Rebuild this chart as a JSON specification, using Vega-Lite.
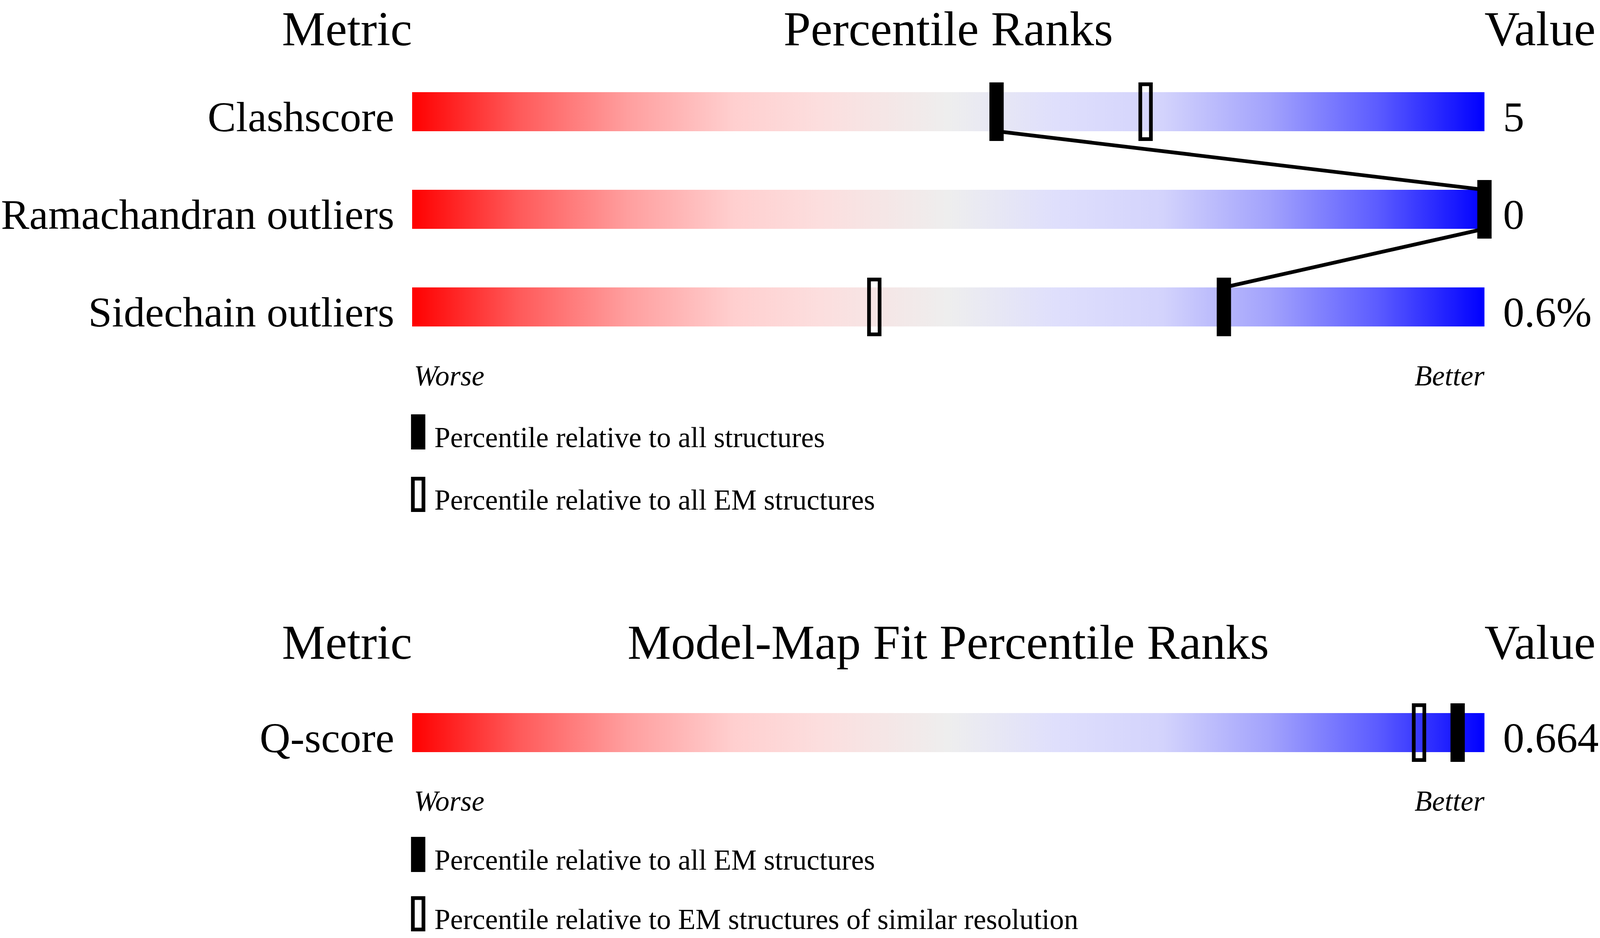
{
  "$schema": "https://vega.github.io/schema/vega-lite/v6.json",
  "width": 4104,
  "height": 2402,
  "autosize": {"type": "none"},
  "padding": 0,
  "background": "white",
  "config": {
    "view": {"stroke": null},
    "font": "Liberation Serif",
    "text": {"font": "Liberation Serif", "color": "black", "baseline": "alphabetic"},
    "legend": {"labelFont": "Liberation Serif", "labelColor": "black", "labelLimit": 4000}
  },
  "datasets": {
    "validation": [
      {"metric": "Clashscore", "value": "5"},
      {"metric": "Ramachandran outliers", "value": "0"},
      {"metric": "Sidechain outliers", "value": "0.6%"}
    ],
    "percentiles": [
      {"metric": "Clashscore", "ref": "Percentile relative to all structures", "pct": 54.5},
      {"metric": "Ramachandran outliers", "ref": "Percentile relative to all structures", "pct": 100},
      {"metric": "Sidechain outliers", "ref": "Percentile relative to all structures", "pct": 75.7},
      {"metric": "Clashscore", "ref": "Percentile relative to all EM structures", "pct": 68.4},
      {"metric": "Sidechain outliers", "ref": "Percentile relative to all EM structures", "pct": 43.1}
    ],
    "mapfit": [
      {"metric": "Q-score", "value": "0.664"}
    ],
    "mapfitPercentiles": [
      {"metric": "Q-score", "ref": "Percentile relative to all EM structures", "pct": 97.5},
      {"metric": "Q-score", "ref": "Percentile relative to EM structures of similar resolution", "pct": 93.9}
    ]
  },
  "resolve": {"scale": {"y": "independent", "fill": "independent"}, "legend": {"fill": "independent"}},
  "layer": [
    {
      "layer": [
        {
          "data": {"name": "validation"},
          "mark": {"type": "rect", "fill": {"gradient": "linear", "x1": 0, "y1": 0, "x2": 1, "y2": 0, "stops": [
            {"offset": 0, "color": "#FF0000"},
            {"offset": 0.1, "color": "#FF5A5A"},
            {"offset": 0.2, "color": "#FF9E9E"},
            {"offset": 0.3, "color": "#FFCFCF"},
            {"offset": 0.38, "color": "#FCDEDE"},
            {"offset": 0.5, "color": "#EEEEEE"},
            {"offset": 0.6, "color": "#DFDFFC"},
            {"offset": 0.7, "color": "#D3D3FC"},
            {"offset": 0.8, "color": "#A2A2FC"},
            {"offset": 0.9, "color": "#5C5CFF"},
            {"offset": 1, "color": "#0000FF"}
          ]}},
          "encoding": {
            "x": {"datum": 0, "type": "quantitative", "scale": {"domain": [-38.4333, 111.0667], "nice": false, "zero": false}, "axis": null},
            "x2": {"datum": 100},
            "y": {"field": "metric", "type": "nominal", "scale": {"range": [161, 911], "paddingInner": 0.6, "paddingOuter": 0.3}, "axis": null}
          }
        },
        {
          "data": {"name": "percentiles"},
          "transform": [
            {"filter": "datum.ref === 'Percentile relative to all structures'"},
            {"window": [{"op": "lead", "field": "pct", "as": "nextPct"}, {"op": "lead", "field": "metric", "as": "next"}]},
            {"filter": "datum.next != null"}
          ],
          "mark": {"type": "rule", "strokeWidth": 9.5, "color": "black", "yOffset": 50, "y2Offset": -50},
          "encoding": {
            "x": {"field": "pct", "type": "quantitative", "axis": null},
            "x2": {"field": "nextPct"},
            "y": {"field": "metric", "type": "nominal", "axis": null},
            "y2": {"field": "next"}
          }
        },
        {
          "data": {"name": "percentiles"},
          "mark": {"type": "point", "shape": "M-0.1929,-1h0.3858v2h-0.3858z", "size": 19740, "filled": true, "opacity": 1, "stroke": "black", "strokeWidth": 9.5},
          "encoding": {
            "x": {"field": "pct", "type": "quantitative", "axis": null},
            "y": {"field": "metric", "type": "nominal", "axis": null},
            "fill": {"field": "ref", "type": "nominal",
              "scale": {"domain": ["Percentile relative to all structures", "Percentile relative to all EM structures"], "range": ["black", "transparent"]},
              "legend": {"orient": "none", "legendX": 1025.5, "legendY": 1078, "title": null, "direction": "vertical", "symbolType": "M-0.3366,-1.422h0.6732v2h-0.6732z", "symbolSize": 6480, "symbolStrokeWidth": 9.5, "symbolStrokeColor": "black", "symbolOpacity": 1, "labelFontSize": 73.2, "labelOffset": -3.5, "rowPadding": 40}}
          }
        },
        {
          "data": {"name": "validation"},
          "mark": {"type": "text", "align": "right", "dx": -45.75, "dy": 50, "fontSize": 108.9},
          "encoding": {
            "x": {"datum": 0, "type": "quantitative", "axis": null},
            "y": {"field": "metric", "type": "nominal", "axis": null},
            "text": {"field": "metric"}
          }
        },
        {
          "data": {"name": "validation"},
          "mark": {"type": "text", "align": "left", "dx": 47.6, "dy": 50, "fontSize": 108.9},
          "encoding": {
            "x": {"datum": 100, "type": "quantitative", "axis": null},
            "y": {"field": "metric", "type": "nominal", "axis": null},
            "text": {"field": "value"}
          }
        },
        {
          "data": {"values": [{}]},
          "mark": {"type": "text", "text": "Metric", "align": "right", "dy": -170, "fontSize": 125},
          "encoding": {"x": {"datum": 0, "type": "quantitative", "axis": null}, "y": {"datum": "Clashscore", "type": "nominal", "axis": null}}
        },
        {
          "data": {"values": [{}]},
          "mark": {"type": "text", "text": "Percentile Ranks", "align": "center", "dy": -170, "fontSize": 125},
          "encoding": {"x": {"datum": 50, "type": "quantitative", "axis": null}, "y": {"datum": "Clashscore", "type": "nominal", "axis": null}}
        },
        {
          "data": {"values": [{}]},
          "mark": {"type": "text", "text": "Value", "align": "left", "dx": 0, "dy": -170, "fontSize": 125},
          "encoding": {"x": {"datum": 100, "type": "quantitative", "axis": null}, "y": {"datum": "Clashscore", "type": "nominal", "axis": null}}
        },
        {
          "data": {"values": [{}]},
          "mark": {"type": "text", "text": "Worse", "align": "left", "dx": 4.6, "dy": 201, "fontSize": 73.2, "fontStyle": "italic"},
          "encoding": {"x": {"datum": 0, "type": "quantitative", "axis": null}, "y": {"datum": "Sidechain outliers", "type": "nominal", "axis": null}}
        },
        {
          "data": {"values": [{}]},
          "mark": {"type": "text", "text": "Better", "align": "right", "dy": 201, "fontSize": 73.2, "fontStyle": "italic"},
          "encoding": {"x": {"datum": 100, "type": "quantitative", "axis": null}, "y": {"datum": "Sidechain outliers", "type": "nominal", "axis": null}}
        }
      ]
    },
    {
      "layer": [
        {
          "data": {"name": "mapfit"},
          "mark": {"type": "rect", "fill": {"gradient": "linear", "x1": 0, "y1": 0, "x2": 1, "y2": 0, "stops": [
            {"offset": 0, "color": "#FF0000"},
            {"offset": 0.1, "color": "#FF5A5A"},
            {"offset": 0.2, "color": "#FF9E9E"},
            {"offset": 0.3, "color": "#FFCFCF"},
            {"offset": 0.38, "color": "#FCDEDE"},
            {"offset": 0.5, "color": "#EEEEEE"},
            {"offset": 0.6, "color": "#DFDFFC"},
            {"offset": 0.7, "color": "#D3D3FC"},
            {"offset": 0.8, "color": "#A2A2FC"},
            {"offset": 0.9, "color": "#5C5CFF"},
            {"offset": 1, "color": "#0000FF"}
          ]}},
          "encoding": {
            "x": {"datum": 0, "type": "quantitative", "axis": null},
            "x2": {"datum": 100},
            "y": {"field": "metric", "type": "nominal", "scale": {"range": [1751, 2001], "paddingInner": 0.6, "paddingOuter": 0.3}, "axis": null}
          }
        },
        {
          "data": {"name": "mapfitPercentiles"},
          "mark": {"type": "point", "shape": "M-0.1929,-1h0.3858v2h-0.3858z", "size": 19740, "filled": true, "opacity": 1, "stroke": "black", "strokeWidth": 9.5},
          "encoding": {
            "x": {"field": "pct", "type": "quantitative", "axis": null},
            "y": {"field": "metric", "type": "nominal", "axis": null},
            "fill": {"field": "ref", "type": "nominal",
              "scale": {"domain": ["Percentile relative to all EM structures", "Percentile relative to EM structures of similar resolution"], "range": ["black", "transparent"]},
              "legend": {"orient": "none", "legendX": 1025.5, "legendY": 2160, "title": null, "direction": "vertical", "symbolType": "M-0.3366,-1.422h0.6732v2h-0.6732z", "symbolSize": 6480, "symbolStrokeWidth": 9.5, "symbolStrokeColor": "black", "symbolOpacity": 1, "labelFontSize": 73.2, "labelOffset": -3.5, "rowPadding": 32}}
          }
        },
        {
          "data": {"name": "mapfit"},
          "mark": {"type": "text", "align": "right", "dx": -45.75, "dy": 50, "fontSize": 108.9},
          "encoding": {
            "x": {"datum": 0, "type": "quantitative", "axis": null},
            "y": {"field": "metric", "type": "nominal", "axis": null},
            "text": {"field": "metric"}
          }
        },
        {
          "data": {"name": "mapfit"},
          "mark": {"type": "text", "align": "left", "dx": 47.6, "dy": 50, "fontSize": 108.9},
          "encoding": {
            "x": {"datum": 100, "type": "quantitative", "axis": null},
            "y": {"field": "metric", "type": "nominal", "axis": null},
            "text": {"field": "value"}
          }
        },
        {
          "data": {"values": [{}]},
          "mark": {"type": "text", "text": "Metric", "align": "right", "dy": -189, "fontSize": 125},
          "encoding": {"x": {"datum": 0, "type": "quantitative", "axis": null}, "y": {"datum": "Q-score", "type": "nominal", "axis": null}}
        },
        {
          "data": {"values": [{}]},
          "mark": {"type": "text", "text": "Model-Map Fit Percentile Ranks", "align": "center", "dy": -189, "fontSize": 125},
          "encoding": {"x": {"datum": 50, "type": "quantitative", "axis": null}, "y": {"datum": "Q-score", "type": "nominal", "axis": null}}
        },
        {
          "data": {"values": [{}]},
          "mark": {"type": "text", "text": "Value", "align": "left", "dx": 0, "dy": -189, "fontSize": 125},
          "encoding": {"x": {"datum": 100, "type": "quantitative", "axis": null}, "y": {"datum": "Q-score", "type": "nominal", "axis": null}}
        },
        {
          "data": {"values": [{}]},
          "mark": {"type": "text", "text": "Worse", "align": "left", "dx": 4.6, "dy": 200, "fontSize": 73.2, "fontStyle": "italic"},
          "encoding": {"x": {"datum": 0, "type": "quantitative", "axis": null}, "y": {"datum": "Q-score", "type": "nominal", "axis": null}}
        },
        {
          "data": {"values": [{}]},
          "mark": {"type": "text", "text": "Better", "align": "right", "dy": 200, "fontSize": 73.2, "fontStyle": "italic"},
          "encoding": {"x": {"datum": 100, "type": "quantitative", "axis": null}, "y": {"datum": "Q-score", "type": "nominal", "axis": null}}
        }
      ]
    }
  ]
}
